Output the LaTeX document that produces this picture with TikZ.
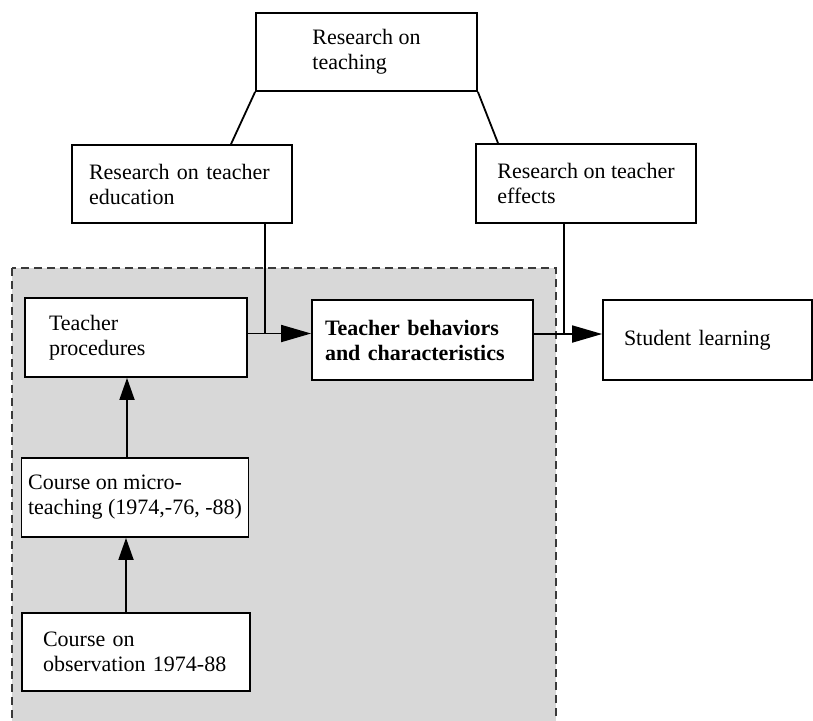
\documentclass[tikz,border=0pt]{standalone}
\usepackage{fontspec}
\setmainfont{Liberation Serif}
\usepackage{xcolor}
\usetikzlibrary{arrows.meta}
\definecolor{shadegray}{HTML}{D8D8D8}
\definecolor{dashgray}{HTML}{3A3A3A}
\tikzset{
	box/.style={draw, fill=white, line width=0.9pt, align=left, minimum height=39pt,
		font=\fontsize{11}{12.5}\selectfont},
	link/.style={line width=0.9pt},
	arr/.style={line width=0.9pt, -{Triangle[length=15pt,width=8.5pt]}},
	uparr/.style={line width=0.9pt, -{Triangle[length=11pt,width=7.5pt]}}
}

\begin{document}
\begin{tikzpicture}[x=0.5pt,y=-0.5pt]
		\useasboundingbox (0,0) rectangle (813,720);
		% shaded field
		\draw [fill=shadegray, draw=dashgray, line width=0.9pt, dash pattern=on 4pt off 2.5pt] (12,268) rectangle (556,740);
		%
		\node [box, minimum width=110.5pt] (teaching) at (366.5,52) {Research on\\teaching};
		\node [box, text width=93pt, inner xsep=8.5pt] (education) at (182,184) {Research on teacher\\education};
		\node [box, minimum width=110pt, minimum height=39.5pt] (effects) at (586,183.5) {Research on teacher\\effects};
		\node [box, text width=87pt, inner xsep=12pt, minimum height=39.5pt] (procedures) at (136,337.5) {Teacher\\procedures};
		\node [box, text width=97.5pt, inner xsep=6.5pt, minimum height=40pt,
			font=\fontsize{11}{12.5}\selectfont\bfseries] (behaviors) at (422.5,340) {Teacher behaviors\\and characteristics};
		\node [box, text width=83.5pt, inner xsep=10.5pt, minimum height=40pt] (student) at (707.5,340) {Student learning};
		\node [box, minimum width=113pt, minimum height=39.5pt] (micro) at (135,497.5) {Course on micro-\\teaching (1974,-76, -88)};
		\node [box, text width=93pt, inner xsep=10.5pt] (obs) at (136,652) {Course on\\observation 1974-88};
		%
		\draw [link] (teaching.south west) -- ([xshift=24.5pt]education.north);
		\draw [link] (teaching.south east) -- ([xshift=-44pt]effects.north);
		%
		\coordinate (leftrow) at ([yshift=2pt]procedures.east);
		\coordinate (edudrop) at ([xshift=41.5pt]education.south);
		\draw [arr] (leftrow) -- (leftrow -| behaviors.west);
		\draw [link] (edudrop) -- (edudrop |- leftrow);
		%
		\coordinate (rightrow) at ([yshift=3pt]behaviors.east);
		\coordinate (effdrop) at ([xshift=-11pt]effects.south);
		\draw [arr] (rightrow) -- (rightrow -| student.west);
		\draw [link] (effdrop) -- (effdrop |- rightrow);
		%
		\coordinate (microup) at ([xshift=-4pt]micro.north);
		\coordinate (obsup) at ([xshift=-5pt]obs.north);
		\draw [uparr] (microup) -- (microup |- procedures.south);
		\draw [uparr] (obsup) -- (obsup |- micro.south);
	\end{tikzpicture}
\end{document}
